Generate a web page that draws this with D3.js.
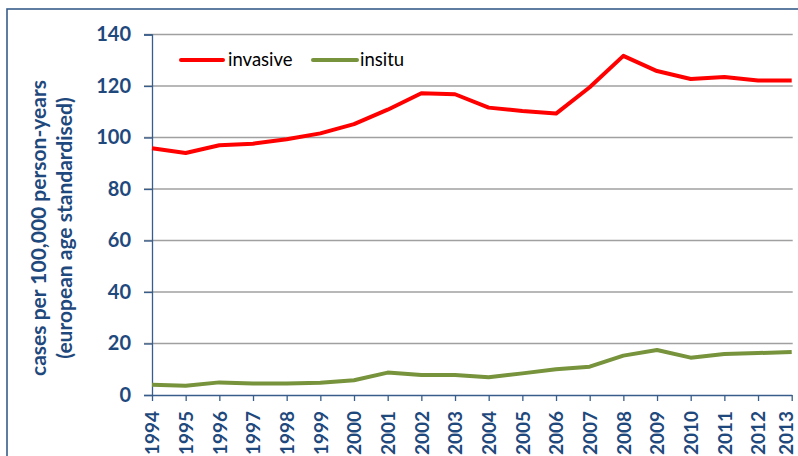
<!DOCTYPE html>
<html><head><meta charset="utf-8">
<script src="https://cdn.jsdelivr.net/npm/d3@7"></script>
<style>html,body{margin:0;padding:0;background:#fff;}svg{display:block;}</style>
</head><body>
<script>
const years = [1994,1995,1996,1997,1998,1999,2000,2001,2002,2003,2004,2005,2006,2007,2008,2009,2010,2011,2012,2013];
const invasive = [95.8,94.0,97.0,97.6,99.3,101.6,105.2,110.8,117.2,116.8,111.6,110.3,109.3,119.5,131.7,125.8,122.7,123.5,122.1,122.1];
const insitu = [4.0,3.6,4.9,4.5,4.5,4.8,5.7,8.7,7.8,7.8,6.9,8.4,10.0,11.0,15.3,17.5,14.5,15.9,16.3,16.7];
const yTicks = [0,20,40,60,80,100,120,140];
const seriesNames = ["invasive","insitu"];
const seriesColors = ["#ff0000","#77933c"];

const W = 798, H = 456;
const textColor = "#1f497d";
const font = "Lato, 'Liberation Sans', sans-serif";
const svg = d3.select("body").append("svg").attr("width", W).attr("height", H);

svg.append("rect").attr("x",7).attr("y",9).attr("width",W).attr("height",H)
  .attr("fill","none").attr("stroke","#385d8a").attr("stroke-width",1.6);

const x = d3.scaleLinear().domain([1994,2013]).range([152,791.7]);
const y = d3.scaleLinear().domain([0,140]).range([395,34.5]);

// gridlines
svg.append("g").selectAll("line").data(yTicks.filter(d=>d>0)).join("line")
  .attr("x1",144).attr("x2",792.7).attr("y1",d=>y(d)).attr("y2",d=>y(d))
  .attr("stroke","#a0a0a0").attr("stroke-width",1.3);

// y axis
const yAxis = svg.append("g").attr("transform","translate(152,0)")
  .call(d3.axisLeft(y).tickValues(yTicks).tickSize(8).tickPadding(13).tickFormat(d3.format("d")));
yAxis.select(".domain").attr("stroke","#385d8a").attr("stroke-width",1.3);
yAxis.selectAll(".tick line").attr("stroke","#385d8a").attr("stroke-width",1.3);
yAxis.selectAll("text").attr("fill",textColor).style("font-family",font)
  .style("font-weight","bold").style("font-size","20px");

// x axis
const xAxis = svg.append("g").attr("transform","translate(0,395)")
  .call(d3.axisBottom(x).tickValues(years).tickSize(6).tickSizeOuter(0).tickFormat(d3.format("d")));
xAxis.select(".domain").attr("stroke","#385d8a").attr("stroke-width",1.3);
xAxis.selectAll(".tick line").attr("stroke","#385d8a").attr("stroke-width",1.3);
xAxis.selectAll("text").attr("fill",textColor).style("font-family",font)
  .style("font-weight","bold").style("font-size","19px")
  .attr("transform",(d,i)=> (i===years.length-1 ? "translate(-6,0) " : "") + "rotate(-90)")
  .attr("text-anchor","end")
  .attr("x",-16).attr("y",0).attr("dy","0.36em");

// lines
const line = d3.line().x((d,i)=>x(years[i])).y(d=>y(d));
[invasive, insitu].forEach((s,i)=>{
  svg.append("path").datum(s).attr("d",line).attr("fill","none")
    .attr("stroke",seriesColors[i]).attr("stroke-width",4).attr("stroke-linejoin","round");
});

// legend
const leg = [{x1:181,x2:223,tx:228},{x1:313,x2:357,tx:360}];
leg.forEach((l,i)=>{
  svg.append("line").attr("x1",l.x1).attr("x2",l.x2).attr("y1",60).attr("y2",60)
    .attr("stroke",seriesColors[i]).attr("stroke-width",4).attr("stroke-linecap","round");
  svg.append("text").attr("x",l.tx).attr("y",60).attr("dy","0.35em").text(seriesNames[i])
    .attr("fill","#000").style("font-family",font).style("font-size","18.5px");
});

// y title
const t = svg.append("text").attr("transform","translate(40,228) rotate(-90)")
  .attr("text-anchor","middle").attr("fill",textColor)
  .style("font-family",font).style("font-weight","bold").style("font-size","21px");
t.append("tspan").attr("x",0).attr("dy","0.3em").text("cases per 100,000 person-years");
t.append("tspan").attr("x",0).attr("dy","26").text("(european age standardised)");
</script>
</body></html>
